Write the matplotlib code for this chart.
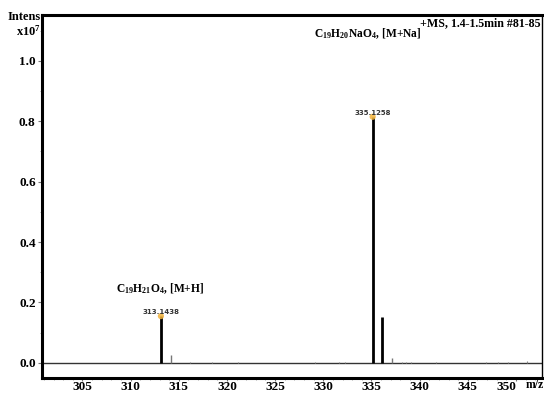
import matplotlib
matplotlib.use("Agg")
import matplotlib.pyplot as plt
from matplotlib.ticker import MultipleLocator, FixedLocator

plt.rcParams['font.family'] = ['Liberation Serif', 'DejaVu Serif']
plt.rcParams['font.weight'] = 'bold'
plt.rcParams['mathtext.fontset'] = 'custom'
plt.rcParams['mathtext.rm'] = 'Liberation Serif:bold'
plt.rcParams['mathtext.bf'] = 'Liberation Serif:bold'
plt.rcParams['mathtext.it'] = 'Liberation Serif:bold'

# Data (intensity in units of 1e7)
major_mz = [313.1438, 335.1258, 336.13]
major_int = [0.155, 0.815, 0.152]
minor_mz = [314.14, 337.13]
minor_int = [0.027, 0.017]
noise_mz = [316.2, 318.4, 321.1, 329.1, 331.6, 332.3, 338.2, 338.6, 339.1, 341.7, 346.9, 348.1, 349.2, 351.1]
noise_int = [0.003, 0.002, 0.002, 0.003, 0.004, 0.003, 0.004, 0.003, 0.002, 0.002, 0.002, 0.003, 0.003, 0.006]
labeled_mz = [313.1438, 335.1258]
labeled_int = [0.155, 0.815]
peak_labels = ["313.1438", "335.1258"]
x_ticks = [305, 310, 315, 320, 325, 330, 335, 340, 345, 350]
y_ticks = [0.0, 0.2, 0.4, 0.6, 0.8, 1.0]

fig = plt.figure(figsize=(5.44, 3.94), dpi=100)
ax = fig.add_axes([0.0772, 0.0406, 0.9191, 0.9214])
ax.set_xlim(300.8, 352.7)
ax.set_ylim(-0.05, 1.152)

# baseline
ax.axhline(0, color='#333333', lw=1.0, zorder=1)

ax.vlines(noise_mz, 0, noise_int, color='#888888', lw=0.8, zorder=2)
ax.vlines(minor_mz, 0, minor_int, color='#777777', lw=1.0, zorder=2)
ax.vlines(major_mz, 0, major_int, color='black', lw=2.0, zorder=3)

ax.scatter(labeled_mz, labeled_int, s=20, marker='o', color='#f2b23a', alpha=0.85,
           edgecolors='none', zorder=4)
for mz, it, lab in zip(labeled_mz, labeled_int, peak_labels):
    ax.annotate(lab, (mz, it), xytext=(0, 0.5), textcoords='offset points',
                ha='center', va='bottom', fontsize=5.0, color='#333333',
                family=['DejaVu Sans'], fontweight='bold', zorder=5)

ax.text(313.1, 0.245, r'C$_{19}$H$_{21}$O$_{4}$, [M+H]', ha='center', va='center', fontsize=8.3)
ax.text(334.6, 1.09, r'C$_{19}$H$_{20}$NaO$_{4}$, [M+Na]', ha='center', va='center', fontsize=8.3)
ax.text(0.998, 0.995, '+MS, 1.4-1.5min #81-85', transform=ax.transAxes,
        ha='right', va='top', fontsize=8.6)

fig.text(41 / 544, 1 - 17 / 394, 'Intens', ha='right', va='center', fontsize=9)
fig.text(41 / 544, 1 - 31 / 394, r'x10$^{7}$', ha='right', va='center', fontsize=9)
fig.text(543.5 / 544, 1 - 385 / 394, 'm/z', ha='right', va='center', fontsize=8.5)

ax.xaxis.set_major_locator(FixedLocator(x_ticks))
ax.set_xticklabels([str(t) for t in x_ticks])
ax.xaxis.set_minor_locator(MultipleLocator(1))
ax.yaxis.set_major_locator(FixedLocator(y_ticks))
ax.set_yticklabels([f"{t:.1f}" for t in y_ticks])
ax.yaxis.set_minor_locator(MultipleLocator(0.1))

ax.tick_params(axis='y', which='major', length=3, width=0.8, color='#777777',
               labelsize=9.5, pad=1.5)
ax.tick_params(axis='x', which='major', length=2, width=0.8, color='#777777',
               labelsize=9.5, pad=0.5)
ax.tick_params(axis='both', which='minor', length=1.5, width=0.6, color='#999999')
for lab in ax.get_xticklabels():
    if lab.get_text() == '350':
        lab.set_horizontalalignment('right')
        lab.set_x(350.9)

for s in ['left', 'bottom', 'top']:
    ax.spines[s].set_linewidth(2.2)
ax.spines['right'].set_linewidth(1.0)

fig.savefig('out.png', dpi=100)
